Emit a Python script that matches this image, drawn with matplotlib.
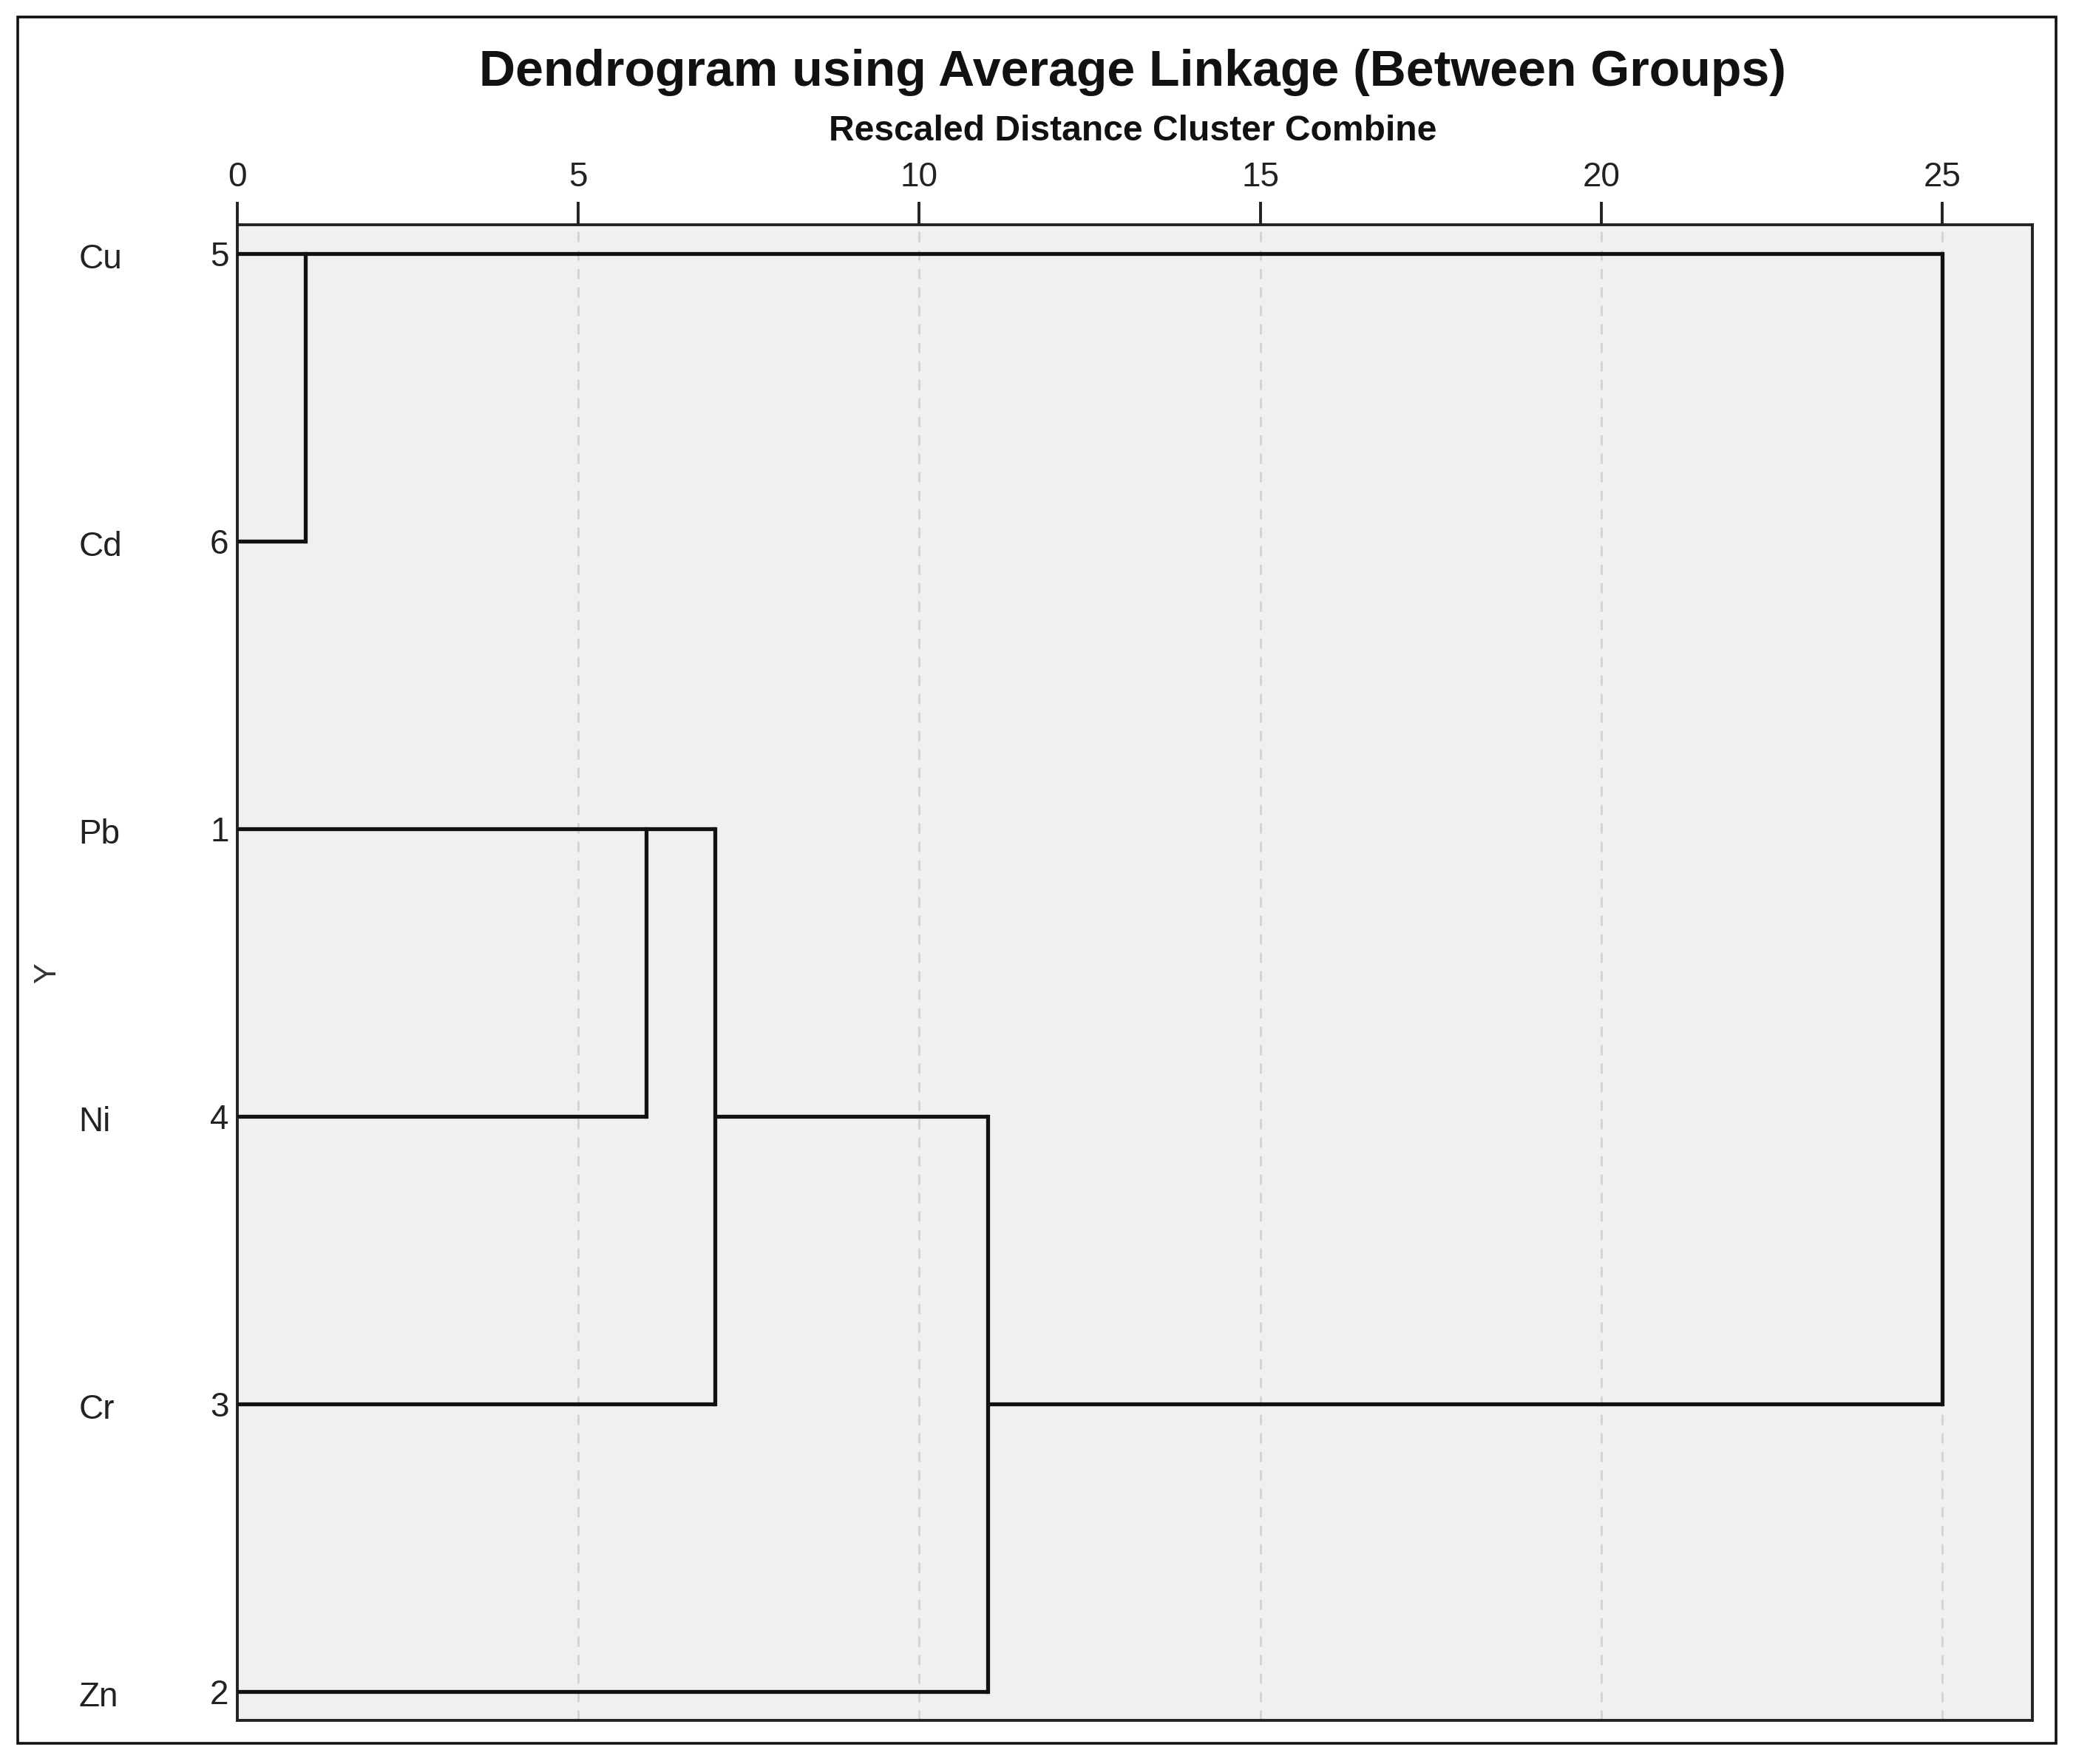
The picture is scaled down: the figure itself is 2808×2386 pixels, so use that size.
"""
SPSS-style dendrogram: Average Linkage (Between Groups), rescaled distance 0-25.
"""

import matplotlib
matplotlib.use("Agg")
import matplotlib.pyplot as plt
from matplotlib import transforms
from matplotlib.patches import Rectangle

plt.rcParams["font.family"] = ["Liberation Sans", "DejaVu Sans"]

# leaves in display order (top to bottom) and their case numbers
LEAF_NAMES = ["Cu", "Cd", "Pb", "Ni", "Cr", "Zn"]
CASE_IDS = [5, 6, 1, 4, 3, 2]

# merges, scipy-style ids: leaves 0..5, new clusters 6..10
MERGE_LEFT = [0, 2, 7, 8, 6]
MERGE_RIGHT = [1, 3, 4, 5, 9]
MERGE_DIST = [1, 6, 7, 11, 25]

X_TICKS = [0, 5, 10, 15, 20, 25]

TITLE = "Dendrogram using Average Linkage (Between Groups)"
SUBTITLE = "Rescaled Distance Cluster Combine"
LINE_COLOR = "#111111"


def main():
    fig = plt.figure(figsize=(14.04, 11.93), dpi=200)
    ax = fig.add_axes([0.1142, 0.0247, 0.979 - 0.1142, 0.8726 - 0.0247])
    ax.set_facecolor("#f0f0f0")

    n = len(LEAF_NAMES)
    row = {i: float(i) for i in range(n)}
    height = {i: 0.0 for i in range(n)}

    for k, (a, b, d) in enumerate(zip(MERGE_LEFT, MERGE_RIGHT, MERGE_DIST)):
        for c in (a, b):
            ax.plot([height[c], d], [row[c], row[c]], color=LINE_COLOR,
                    lw=1.9, solid_capstyle="butt", zorder=3)
        ax.plot([d, d], [row[a], row[b]], color=LINE_COLOR, lw=1.9,
                solid_capstyle="projecting", zorder=3)
        node = n + k
        # SPSS puts a leaf pair at its upper member, other merges at the midpoint
        if a < n and b < n:
            row[node] = min(row[a], row[b])
        else:
            row[node] = (row[a] + row[b]) / 2
        height[node] = d

    for x in X_TICKS:
        ax.axvline(x, color="#d2d2d2", lw=1.0, ls=(0, (5, 4)), zorder=1)

    ax.set_xlim(0, 26.32)
    ax.set_ylim(n - 1 + 0.1, -0.1)

    ax.xaxis.tick_top()
    ax.set_xticks(X_TICKS)
    ax.set_xticklabels([str(t) for t in X_TICKS], fontsize=16.5, color="#222222")
    ax.tick_params(axis="x", direction="out", length=11, width=1.4, pad=4,
                   color="#222222")

    ax.set_yticks(range(n))
    ax.set_yticklabels([str(c) for c in CASE_IDS], fontsize=16.5, color="#222222")
    ax.tick_params(axis="y", length=0, pad=4)

    for s in ax.spines.values():
        s.set_color("#222222")
        s.set_linewidth(1.4)

    trans = transforms.blended_transform_factory(fig.transFigure, ax.transData)
    trans = trans + transforms.ScaledTranslation(0, -3 / 72, fig.dpi_scale_trans)
    for i, name in enumerate(LEAF_NAMES):
        ax.text(0.038, i, name, transform=trans, ha="left", va="center",
                fontsize=16.5, color="#222222")

    fig.text(0.0228, 0.4485, "Y", rotation=90, ha="center", va="center",
             fontsize=15, color="#333333")

    fig.text(0.5455, 0.959, TITLE, ha="center", va="center", fontsize=24.5,
             fontweight="bold", color="#111111")
    fig.text(0.5455, 0.9258, SUBTITLE, ha="center", va="center", fontsize=17.3,
             fontweight="bold", color="#111111")

    fig.patches.append(Rectangle((0.0085, 0.0117), 0.9904 - 0.0085, 0.9904 - 0.0117,
                                 transform=fig.transFigure, fill=False,
                                 edgecolor="#111111", lw=1.3))

    fig.savefig("out.png", dpi=200, facecolor="white")
    plt.close(fig)


if __name__ == "__main__":
    main()
